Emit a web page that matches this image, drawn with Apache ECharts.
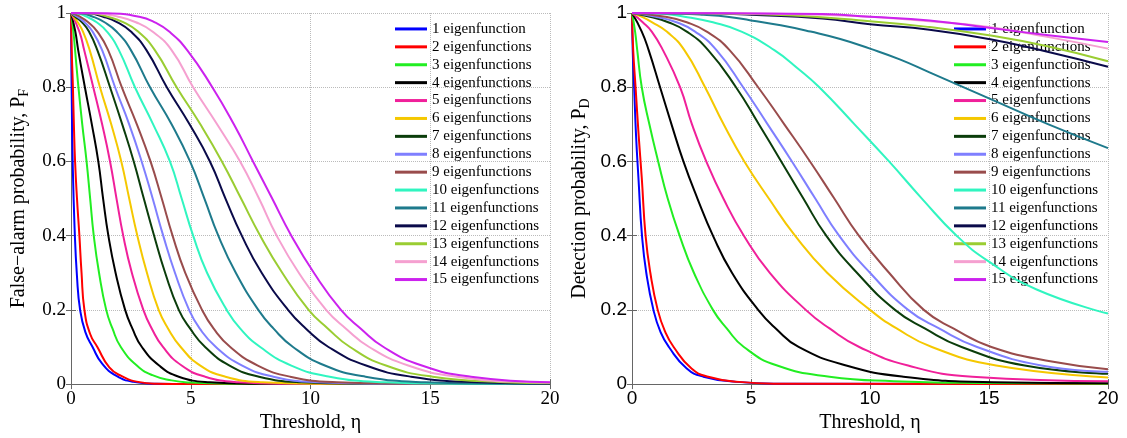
<!DOCTYPE html>
<html><head><meta charset="utf-8">
<script src="https://cdn.jsdelivr.net/npm/echarts@6/dist/echarts.min.js"></script>
<style>html,body{margin:0;padding:0;background:#fff}#c{width:1127px;height:438px}</style>
</head><body><div id="c"></div>
<script>
const seriesNames = ['1 eigenfunction','2 eigenfunctions','3 eigenfunctions','4 eigenfunctions','5 eigenfunctions','6 eigenfunctions','7 eigenfunctions','8 eigenfunctions','9 eigenfunctions','10 eigenfunctions','11 eigenfunctions','12 eigenfunctions','13 eigenfunctions','14 eigenfunctions','15 eigenfunctions'];
const seriesColors = ['#0000ff','#ff0000','#22ee22','#000000','#f0209a','#f5c800','#0b3d0b','#7f7fff','#994c4c','#30f5c0','#1e7a8c','#0a0a4a','#9acd32','#f5a0d0','#cc22ee'];

// False-alarm probability P_F vs threshold eta ([eta, P_F])
const pfCurves = [
 [[0,1],[0.01,0.9],[0.03,0.78],[0.07,0.6],[0.15,0.42],[0.25,0.29],[0.38,0.2],[0.6,0.14],[0.9,0.1],[1.3,0.055],[1.9,0.022],[2.6,0.006],[3.5,0.001],[5,0],[20,0]],
 [[0,1],[0.03,0.9],[0.08,0.8],[0.12,0.7],[0.17,0.6],[0.25,0.5],[0.35,0.4],[0.44,0.3],[0.56,0.2],[0.8,0.135],[1.1,0.1],[1.6,0.045],[2.1,0.022],[2.8,0.006],[3.6,0.001],[5,0],[20,0]],
 [[0,1],[0.1,0.95],[0.17,0.9],[0.31,0.8],[0.47,0.7],[0.65,0.6],[0.8,0.5],[0.95,0.4],[1.17,0.3],[1.47,0.2],[1.73,0.15],[2.08,0.1],[2.75,0.05],[3.4,0.024],[4.2,0.01],[5,0.004],[6.5,0.001],[20,0]],
 [[0,1],[0.18,0.95],[0.3,0.9],[0.58,0.8],[0.87,0.7],[1.14,0.6],[1.34,0.5],[1.56,0.4],[1.86,0.3],[2.26,0.2],[2.56,0.15],[2.96,0.1],[3.68,0.05],[4.5,0.02],[5.8,0.005],[7.5,0.001],[20,0]],
 [[0,1],[0.35,0.95],[0.55,0.9],[0.93,0.8],[1.3,0.7],[1.63,0.6],[1.9,0.5],[2.18,0.4],[2.54,0.3],[3.02,0.2],[3.37,0.15],[3.84,0.1],[4.62,0.05],[5.6,0.02],[7.0,0.005],[8.8,0.001],[20,0]],
 [[0,1],[0.28,0.975],[0.5,0.95],[0.78,0.9],[1.21,0.8],[1.68,0.7],[2.1,0.6],[2.43,0.5],[2.77,0.4],[3.17,0.3],[3.66,0.2],[4.05,0.15],[4.58,0.1],[5.4,0.05],[6.45,0.02],[8.0,0.005],[10.2,0.001],[20,0]],
 [[0,1],[0.17,0.99],[0.46,0.975],[0.75,0.95],[1.1,0.9],[1.63,0.8],[2.14,0.7],[2.62,0.6],[3.04,0.5],[3.47,0.4],[3.93,0.3],[4.5,0.2],[4.97,0.15],[5.6,0.1],[6.62,0.05],[7.85,0.02],[9.6,0.005],[12,0.001],[20,0]],
 [[0,1],[0.25,0.99],[0.56,0.975],[0.9,0.95],[1.3,0.9],[1.84,0.8],[2.43,0.7],[2.95,0.6],[3.41,0.5],[3.85,0.4],[4.34,0.3],[4.93,0.2],[5.37,0.15],[6.05,0.1],[7.15,0.05],[8.45,0.02],[10.3,0.005],[13,0.001],[20,0]],
 [[0,1],[0.38,0.99],[0.72,0.975],[1.1,0.95],[1.55,0.9],[2.12,0.8],[2.75,0.7],[3.32,0.6],[3.79,0.5],[4.24,0.4],[4.77,0.3],[5.47,0.2],[5.95,0.15],[6.65,0.1],[7.8,0.05],[9.15,0.02],[11.1,0.005],[14,0.001],[20,0]],
 [[0,1],[0.25,0.999],[0.65,0.99],[1.07,0.975],[1.5,0.95],[2.0,0.9],[2.67,0.8],[3.43,0.7],[4.13,0.6],[4.62,0.5],[5.1,0.4],[5.68,0.3],[6.5,0.2],[7.06,0.15],[7.9,0.1],[9.2,0.05],[10.8,0.02],[13.1,0.005],[16,0.001],[20,0]],
 [[0,1],[0.4,0.999],[0.92,0.99],[1.4,0.975],[1.9,0.95],[2.5,0.9],[3.3,0.8],[4.2,0.7],[4.97,0.6],[5.57,0.5],[6.15,0.4],[6.88,0.3],[7.82,0.2],[8.45,0.15],[9.27,0.1],[10.6,0.05],[12.3,0.02],[14.8,0.005],[18,0.001],[20,0.0005]],
 [[0,1],[0.7,0.999],[1.34,0.99],[1.94,0.975],[2.5,0.95],[3.15,0.9],[4.0,0.8],[4.95,0.7],[5.8,0.6],[6.45,0.5],[7.13,0.4],[7.96,0.3],[9.06,0.2],[9.8,0.15],[10.75,0.1],[12.32,0.05],[14.2,0.02],[17,0.005],[20,0.001]],
 [[0,1],[0.8,0.999],[1.53,0.99],[2.2,0.975],[2.8,0.95],[3.5,0.9],[4.41,0.8],[5.4,0.7],[6.3,0.6],[7.1,0.5],[7.9,0.4],[8.82,0.3],[9.92,0.2],[10.72,0.15],[11.65,0.1],[13.15,0.05],[15.1,0.02],[18.1,0.005],[20,0.002]],
 [[0,1],[1.0,0.999],[1.97,0.99],[2.71,0.975],[3.4,0.95],[4.2,0.9],[5.1,0.8],[6.1,0.7],[7.06,0.6],[7.85,0.5],[8.59,0.4],[9.51,0.3],[10.65,0.2],[11.47,0.15],[12.45,0.1],[14.08,0.05],[16.1,0.02],[19.2,0.005],[20,0.004]],
 [[0,1],[1.5,0.999],[2.85,0.99],[3.5,0.975],[4.1,0.95],[4.85,0.9],[5.9,0.8],[6.8,0.7],[7.6,0.6],[8.4,0.5],[9.2,0.4],[10.14,0.3],[11.27,0.2],[12.09,0.15],[13.05,0.1],[14.65,0.05],[16.7,0.02],[20,0.005]]
];

// Detection probability P_D vs threshold eta ([eta, P_D])
const pdCurves = [
 [[0,1],[0.03,0.9],[0.09,0.8],[0.17,0.67],[0.27,0.556],[0.42,0.4],[0.6,0.3],[0.9,0.2],[1.2,0.14],[1.55,0.1],[2.3,0.042],[3.0,0.02],[4.4,0.006],[6,0.001],[20,0]],
 [[0,1],[0.05,0.9],[0.15,0.8],[0.28,0.67],[0.41,0.556],[0.57,0.4],[0.77,0.3],[1.08,0.2],[1.4,0.14],[1.75,0.1],[2.5,0.042],[3.2,0.02],[4.5,0.006],[6,0.001],[20,0]],
 [[0,1],[0.13,0.95],[0.22,0.9],[0.41,0.8],[0.73,0.7],[1.1,0.6],[1.5,0.5],[2.0,0.4],[2.6,0.3],[3.4,0.2],[3.98,0.15],[4.7,0.1],[6.1,0.05],[8.3,0.02],[11,0.008],[15,0.003],[20,0.001]],
 [[0,1],[0.41,0.95],[0.7,0.9],[1.18,0.8],[1.66,0.7],[2.16,0.6],[2.75,0.5],[3.4,0.4],[4.2,0.3],[5.3,0.2],[6.04,0.15],[7.0,0.1],[9.0,0.05],[11.4,0.02],[15.2,0.005],[20,0.002]],
 [[0,1],[0.45,0.975],[0.83,0.95],[1.3,0.9],[2.02,0.8],[2.52,0.7],[3.12,0.6],[3.84,0.5],[4.7,0.4],[5.79,0.3],[7.3,0.2],[8.3,0.15],[9.55,0.1],[11.6,0.05],[14.3,0.02],[20,0.008]],
 [[0,1],[0.4,0.99],[0.85,0.975],[1.46,0.95],[2.2,0.9],[3.07,0.8],[3.85,0.7],[4.72,0.6],[5.75,0.5],[6.85,0.4],[8.2,0.3],[10.0,0.2],[11.12,0.15],[12.6,0.1],[15.3,0.05],[20,0.018]],
 [[0,1],[0.75,0.99],[1.52,0.975],[2.3,0.95],[3.2,0.9],[4.37,0.8],[5.33,0.7],[6.27,0.6],[7.2,0.5],[8.16,0.4],[9.45,0.3],[11.05,0.2],[12.3,0.15],[13.85,0.1],[16.5,0.05],[20,0.028]],
 [[0,1],[1.0,0.99],[1.87,0.975],[2.65,0.95],[3.55,0.9],[4.67,0.8],[5.7,0.7],[6.72,0.6],[7.7,0.5],[8.7,0.4],[10.0,0.3],[11.6,0.2],[12.9,0.15],[14.5,0.1],[17.2,0.05],[20,0.033]],
 [[0,1],[1.4,0.99],[2.3,0.975],[3.14,0.95],[4.1,0.9],[5.3,0.8],[6.4,0.7],[7.48,0.6],[8.5,0.5],[9.53,0.4],[10.8,0.3],[12.26,0.2],[13.5,0.15],[15.1,0.1],[17.7,0.06],[20,0.04]],
 [[0,1],[1.0,0.999],[2.2,0.99],[3.4,0.975],[4.6,0.95],[5.98,0.9],[6.98,0.85],[7.87,0.8],[9.35,0.7],[10.8,0.6],[12.18,0.5],[13.64,0.4],[15,0.33],[17.0,0.255],[20,0.19]],
 [[0,1],[2,0.998],[3,0.995],[4,0.99],[5,0.98],[6.25,0.967],[7.5,0.95],[8.75,0.93],[10,0.904],[11.25,0.875],[12.5,0.84],[13.75,0.805],[15,0.77],[17.5,0.70],[20,0.636]],
 [[0,1],[3,0.999],[5,0.995],[8,0.985],[10,0.97],[12.5,0.955],[15,0.93],[17.5,0.895],[20,0.855]],
 [[0,1],[3,0.999],[6,0.995],[10,0.978],[12.5,0.962],[15,0.94],[17.5,0.91],[20,0.87]],
 [[0,1],[4,0.999],[8,0.995],[10,0.99],[12.5,0.978],[15,0.962],[17.5,0.935],[20,0.904]],
 [[0,1],[4,0.999],[8,0.997],[10,0.99],[12.5,0.98],[15,0.96],[17.5,0.94],[20,0.922]]
];

const etaAxis = {min: 0, max: 20, interval: 5};
const probAxis = {min: 0, max: 1, interval: 0.2};

const SERIF = 'Liberation Serif';
const SANS = 'Liberation Sans';
const axisColor = '#666';

function xMain(grid, font) {
  return {gridIndex: grid, type: 'value', min: etaAxis.min, max: etaAxis.max, interval: etaAxis.interval, position: 'bottom',
    name: 'Threshold, η', nameLocation: 'middle', nameGap: 22,
    nameTextStyle: {fontFamily: SERIF, fontSize: 20, color: '#000'},
    axisLine: {lineStyle: {color: axisColor}}, axisTick: {inside: true, length: 5, lineStyle: {color: axisColor}},
    axisLabel: {fontFamily: font, fontSize: 19, color: '#000', margin: 5},
    splitLine: {show: true, lineStyle: {type: 'dotted', color: '#bbb'}}};
}
function xTop(grid) {
  return {gridIndex: grid, type: 'value', min: etaAxis.min, max: etaAxis.max, interval: etaAxis.interval, position: 'top',
    axisLine: {show: true, lineStyle: {color: axisColor}}, axisTick: {inside: true, length: 5, lineStyle: {color: axisColor}},
    axisLabel: {show: false}, splitLine: {show: false}};
}
function yMain(grid, font, title, sub) {
  return {gridIndex: grid, type: 'value', min: probAxis.min, max: probAxis.max, interval: probAxis.interval, position: 'left',
    name: '{a|' + title + '}{s|' + sub + '}', nameLocation: 'middle', nameGap: 40,
    nameTextStyle: {color: '#000', rich: {
      a: {fontFamily: SERIF, fontSize: 20, color: '#000', lineHeight: 24},
      s: {fontFamily: SERIF, fontSize: 14, color: '#000', lineHeight: 14, verticalAlign: 'bottom'}}},
    axisLine: {show: true, lineStyle: {color: axisColor}}, axisTick: {show: true, inside: true, length: 5, lineStyle: {color: axisColor}},
    axisLabel: {fontFamily: font, fontSize: 19, color: '#000', margin: 5},
    splitLine: {show: true, lineStyle: {type: 'dotted', color: '#bbb'}}};
}
function yRight(grid) {
  return {gridIndex: grid, type: 'value', min: probAxis.min, max: probAxis.max, interval: probAxis.interval, position: 'right',
    axisLine: {show: true, lineStyle: {color: axisColor}}, axisTick: {show: true, inside: true, length: 5, lineStyle: {color: axisColor}},
    axisLabel: {show: false}, splitLine: {show: false}};
}

const series = [];
[pfCurves, pdCurves].forEach((curves, g) => {
  curves.forEach((pts, i) => {
    series.push({type: 'line', name: seriesNames[i], xAxisIndex: g * 2, yAxisIndex: g * 2,
      data: pts, showSymbol: false, symbol: 'none', smooth: 0.5,
      lineStyle: {width: 2, color: seriesColors[i]}, itemStyle: {color: seriesColors[i]}, z: 3});
  });
});

function legendAt(left) {
  return {orient: 'vertical', left: left, top: 20, padding: 0, itemGap: 0, itemWidth: 32, itemHeight: 3, icon: 'rect',
    data: seriesNames, z: 1, selectedMode: false,
    textStyle: {fontFamily: SERIF, fontSize: 15, lineHeight: 17.9, color: '#000'}};
}

const option = {
  animation: false,
  backgroundColor: '#fff',
  color: seriesColors,
  grid: [{left: 71, top: 13, width: 479, height: 376}, {left: 632, top: 13, width: 476, height: 376}],
  xAxis: [xMain(0, SERIF), xTop(0), xMain(1, SANS), xTop(1)],
  yAxis: [yMain(0, SERIF, 'False−alarm probability, P', 'F'), yRight(0), yMain(1, SANS, 'Detection probability, P', 'D'), yRight(1)],
  legend: [legendAt(395), legendAt(954)],
  series: series
};
const chart = echarts.init(document.getElementById('c'), null, {renderer: 'canvas'});
chart.setOption(option);
</script></body></html>
